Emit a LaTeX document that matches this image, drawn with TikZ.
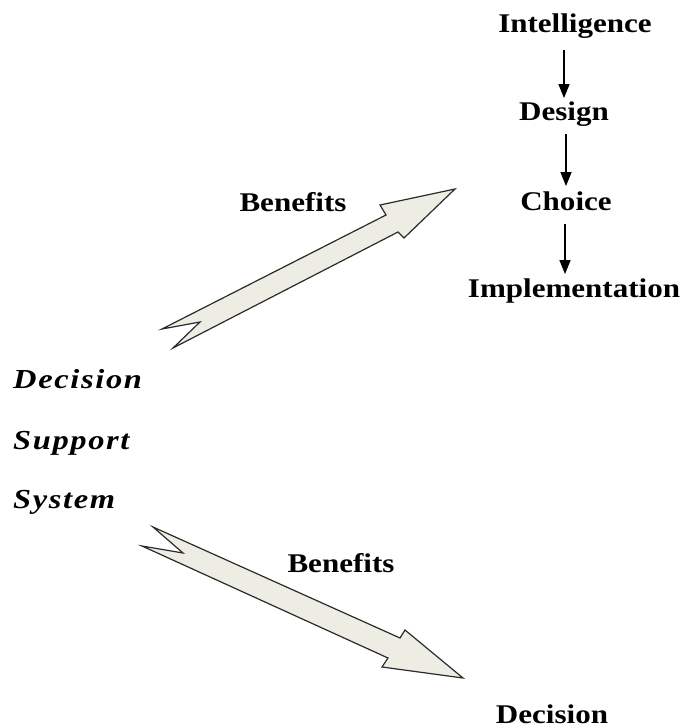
\documentclass[tikz,border=0pt]{standalone}
\usepackage{fontspec}
\setmainfont{Liberation Serif}[FakeStretch=1.15]
\newfontfamily\dssfont{Liberation Serif}[FakeStretch=1.18,LetterSpace=6]
\usetikzlibrary{arrows.meta,calc}
\definecolor{arrfill}{HTML}{EDEDE4}
\definecolor{arrline}{HTML}{2A2A2A}
\tikzset{
  lbl/.style={font=\fontsize{27}{30}\selectfont\bfseries, inner sep=0pt, anchor=base},
  dss/.style={font=\fontsize{27.5}{30}\selectfont\dssfont\bfseries\itshape, inner sep=0pt, anchor=base west},
  bigarrow/.style={fill=arrfill, draw=arrline, line width=1.2pt, line join=miter},
  arr/.style={-{Triangle[width=11pt,length=14pt]}, line width=1.4pt}
}
\begin{document}
\begin{tikzpicture}[x=1pt,y=-1pt]
\useasboundingbox (0,0) rectangle (692,728);
% phase chain
\node[lbl] (int) at (575,32) {Intelligence};
\node[lbl] (des) at (564,120) {Design};
\node[lbl] (cho) at (566,210) {Choice};
\node[lbl] (imp) at (574,297) {Implementation};
\draw[arr] ($(int.south -| des.north)+(0,12)$) -- ($(des.north)+(0,-3)$);
\draw[arr] ($(des.south -| cho.north)+(0,8)$) -- ($(cho.north)+(0,-5)$);
\draw[arr] ($(cho.south)+(-1,14)$) -- ($(cho.south |- imp.north)+(-1,-4)$);
% DSS
\node[dss] (d1) at (13,388) {Decision};
\node[dss] (d2) at (13,449) {Support};
\node[dss] (d3) at (13,508) {System};
% big arrows
\draw[bigarrow] (455,189) -- (404,238) -- (398,232) -- (173,348) -- (200,322) -- (162,329) -- (386,215) -- (380,205) -- cycle;
\draw[bigarrow] (153,527) -- (400,638) -- (405,630) -- (463,678) -- (382,667) -- (388,658) -- (142,546) -- (183,553) -- cycle;
\node[lbl] (b1) at (293,211) {Benefits};
\node[lbl] (b2) at (341,572) {Benefits};
\node[lbl] (dec) at (552,723) {Decision};
\end{tikzpicture}
\end{document}
